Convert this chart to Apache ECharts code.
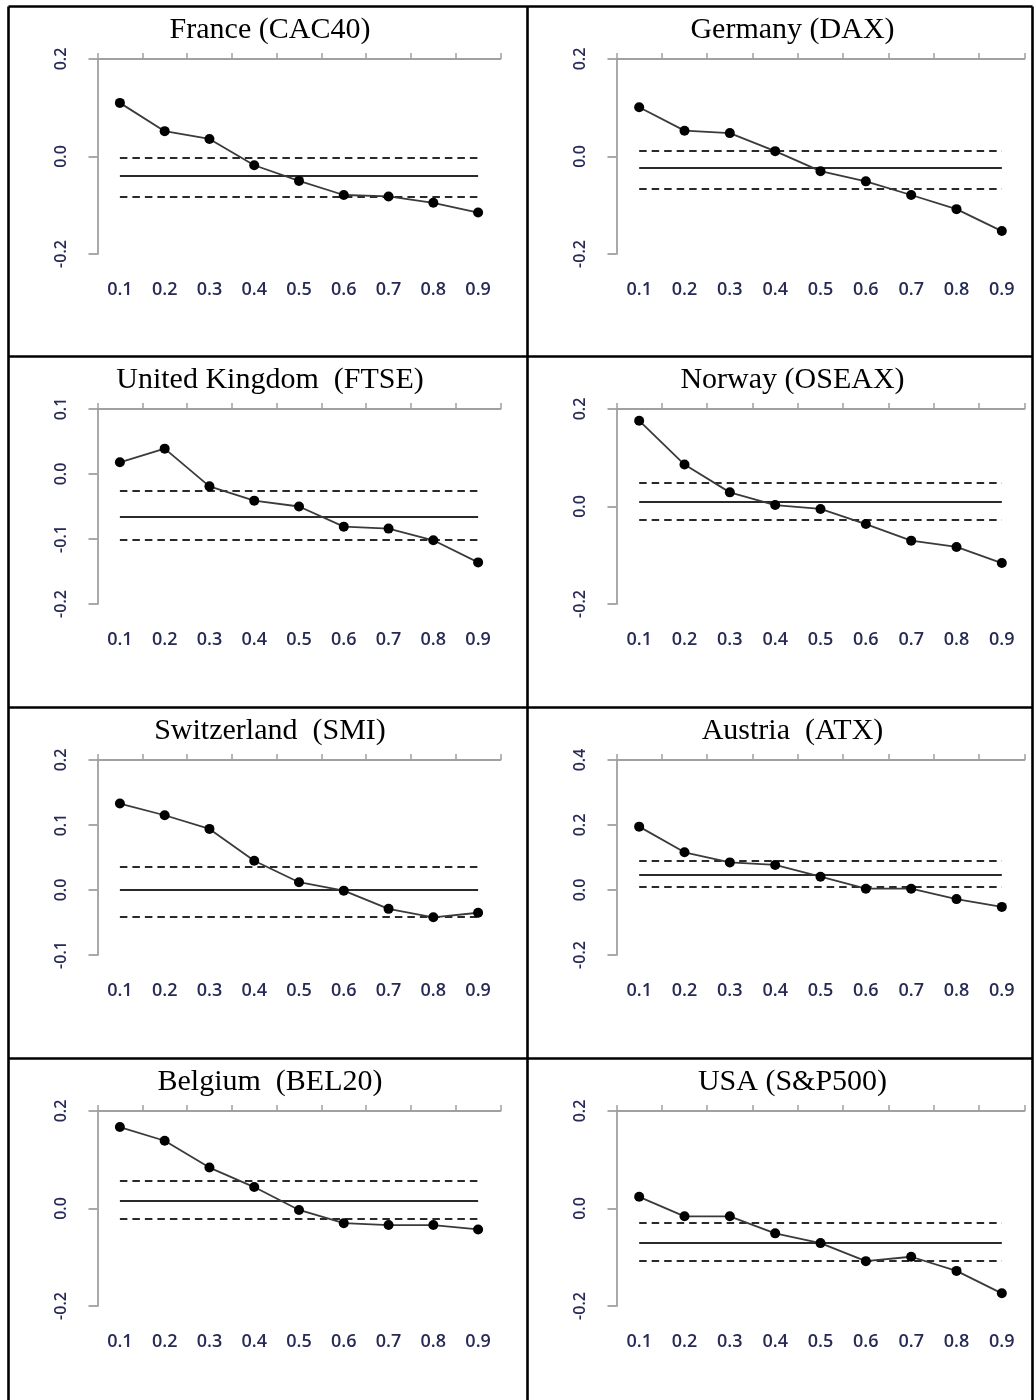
<!DOCTYPE html>
<html>
<head>
<meta charset="utf-8">
<script src="https://cdn.jsdelivr.net/npm/echarts@6/dist/echarts.min.js"></script>
<style>
html,body{margin:0;padding:0;background:#fff;}
#chart{width:1034px;height:1400px;}
</style>
</head>
<body>
<div id="chart"></div>
<script>
// ---- data ----
const categories = ['0.1','0.2','0.3','0.4','0.5','0.6','0.7','0.8','0.9'];
const titles = ['France (CAC40)','Germany (DAX)','United Kingdom  (FTSE)','Norway (OSEAX)',
                'Switzerland  (SMI)','Austria  (ATX)','Belgium  (BEL20)','USA (S&P500)'];

const franceValues      = [0.110, 0.052, 0.036, -0.018, -0.050, -0.079, -0.082, -0.095, -0.115];
const germanyValues     = [0.101, 0.053, 0.048, 0.011, -0.030, -0.051, -0.079, -0.108, -0.153];
const ukValues          = [0.018, 0.039, -0.019, -0.041, -0.050, -0.081, -0.084, -0.102, -0.136];
const norwayValues      = [0.176, 0.086, 0.029, 0.003, -0.005, -0.036, -0.070, -0.083, -0.116];
const switzerlandValues = [0.133, 0.115, 0.094, 0.045, 0.012, -0.001, -0.029, -0.042, -0.035];
const austriaValues     = [0.195, 0.116, 0.085, 0.077, 0.041, 0.004, 0.004, -0.028, -0.052];
const belgiumValues     = [0.167, 0.139, 0.084, 0.044, -0.003, -0.030, -0.034, -0.034, -0.043];
const usaValues         = [0.024, -0.016, -0.016, -0.051, -0.071, -0.108, -0.099, -0.128, -0.174];

// reference lines: [upper dashed, solid, lower dashed]
const franceRef      = [-0.003, -0.040, -0.082];
const germanyRef     = [0.012, -0.024, -0.066];
const ukRef          = [-0.025, -0.065, -0.101];
const norwayRef      = [0.049, 0.009, -0.028];
const switzerlandRef = [0.036, 0.000, -0.041];
const austriaRef     = [0.090, 0.048, 0.010];
const belgiumRef     = [0.057, 0.015, -0.021];
const usaRef         = [-0.029, -0.070, -0.107];

// y axis ticks: [min, max, interval]
const franceTicks      = [-0.2, 0.2, 0.2];
const germanyTicks     = [-0.2, 0.2, 0.2];
const ukTicks          = [-0.2, 0.1, 0.1];
const norwayTicks      = [-0.2, 0.2, 0.2];
const switzerlandTicks = [-0.1, 0.2, 0.1];
const austriaTicks     = [-0.2, 0.4, 0.2];
const belgiumTicks     = [-0.2, 0.2, 0.2];
const usaTicks         = [-0.2, 0.2, 0.2];

const panelValues = [franceValues, germanyValues, ukValues, norwayValues,
                     switzerlandValues, austriaValues, belgiumValues, usaValues];
const panelRefs   = [franceRef, germanyRef, ukRef, norwayRef,
                     switzerlandRef, austriaRef, belgiumRef, usaRef];
const panelTicks  = [franceTicks, germanyTicks, ukTicks, norwayTicks,
                     switzerlandTicks, austriaTicks, belgiumTicks, usaTicks];

// ---- layout ----
const cellLeft = [8.5, 527.5];
const cellRight = 1032.5;
const cellTop = [6.5, 356.5, 707.5, 1058.5];
const titleCenterX = [265, 787.5];
const gridLeftOff = 89;
const gridWidths = [403, 408];
const gridTopOff = 52.5;
const gridHeight = 195;

const AXIS_GREY = '#a0a0a0';
const LABEL_COLOR = '#262a55';

const grids = [], xAxes = [], yAxes = [], series = [], titleList = [];

for (let i = 0; i < 8; i++) {
  const col = i % 2, row = Math.floor(i / 2);
  const left = cellLeft[col] + gridLeftOff;
  const top = cellTop[row] + gridTopOff;
  grids.push({left: left, top: top, width: gridWidths[col], height: gridHeight, containLabel: false});

  titleList.push({
    text: titles[i],
    left: titleCenterX[col],
    top: cellTop[row] + 4,
    textAlign: 'center',
    textStyle: {fontFamily: '"Liberation Serif", "Times New Roman", serif', fontSize: 30, fontWeight: 'normal', color: '#000'}
  });

  // top axis: line + ticks
  xAxes.push({
    gridIndex: i, type: 'category', data: categories, position: 'top', boundaryGap: true,
    axisLine: {show: true, onZero: false, lineStyle: {color: AXIS_GREY, width: 1.8}},
    axisTick: {show: true, inside: false, length: 6, lineStyle: {color: AXIS_GREY, width: 1.5}},
    axisLabel: {show: false}, splitLine: {show: false}
  });
  // bottom axis: labels only
  xAxes.push({
    gridIndex: i, type: 'category', data: categories, position: 'bottom', boundaryGap: true,
    axisLine: {show: false}, axisTick: {show: false}, splitLine: {show: false},
    axisLabel: {show: true, margin: 27, interval: 0, color: LABEL_COLOR,
                fontFamily: '"Open Sans", sans-serif', fontWeight: 600, fontSize: 18}
  });

  const t = panelTicks[i];
  yAxes.push({
    gridIndex: i, type: 'value', min: t[0], max: t[1], interval: t[2], position: 'left',
    axisLine: {show: true, onZero: false, lineStyle: {color: AXIS_GREY, width: 1.8}},
    axisTick: {show: true, inside: false, length: 9, lineStyle: {color: AXIS_GREY, width: 1.8}},
    splitLine: {show: false},
    axisLabel: {show: true, rotate: 90, margin: 28, color: LABEL_COLOR,
                fontFamily: '"Open Sans", sans-serif', fontWeight: 600, fontSize: 16,
                formatter: v => v.toFixed(1)}
  });

  const r = panelRefs[i];
  const first = categories[0], last = categories[categories.length - 1];
  series.push({
    type: 'line', xAxisIndex: 2 * i, yAxisIndex: i,
    data: panelValues[i],
    symbol: 'circle', symbolSize: 10,
    itemStyle: {color: '#000'},
    lineStyle: {color: '#3a3a3a', width: 1.8},
    z: 5,
    markLine: {
      silent: true, symbol: ['none', 'none'], label: {show: false}, animation: false,
      data: [
        [{coord: [first, r[0]], lineStyle: {type: [7.5, 5], color: '#2a2a2a', width: 2.2}}, {coord: [last, r[0]]}],
        [{coord: [first, r[1]], lineStyle: {type: 'solid', color: '#2a2a2a', width: 2.2}}, {coord: [last, r[1]]}],
        [{coord: [first, r[2]], lineStyle: {type: [7.5, 5], color: '#2a2a2a', width: 2.2}}, {coord: [last, r[2]]}]
      ]
    }
  });
}

// table borders
const B = {stroke: '#000', lineWidth: 2.6};
const borderLines = [
  [cellLeft[0], cellTop[0], cellLeft[0], 1400],
  [cellLeft[1], cellTop[0], cellLeft[1], 1400],
  [cellRight, cellTop[0], cellRight, 1400],
  [cellLeft[0], cellTop[0], cellRight, cellTop[0]],
  [cellLeft[0], cellTop[1], cellRight, cellTop[1]],
  [cellLeft[0], cellTop[2], cellRight, cellTop[2]],
  [cellLeft[0], cellTop[3], cellRight, cellTop[3]]
];
const graphics = borderLines.map(l => ({
  type: 'line', silent: true, z: 100,
  shape: {x1: l[0], y1: l[1], x2: l[2], y2: l[3]}, style: B
}));

const chart = echarts.init(document.getElementById('chart'), null, {renderer: 'canvas'});
chart.setOption({
  animation: false,
  backgroundColor: '#fff',
  title: titleList,
  grid: grids,
  xAxis: xAxes,
  yAxis: yAxes,
  series: series,
  graphic: graphics
});
</script>
</body>
</html>
